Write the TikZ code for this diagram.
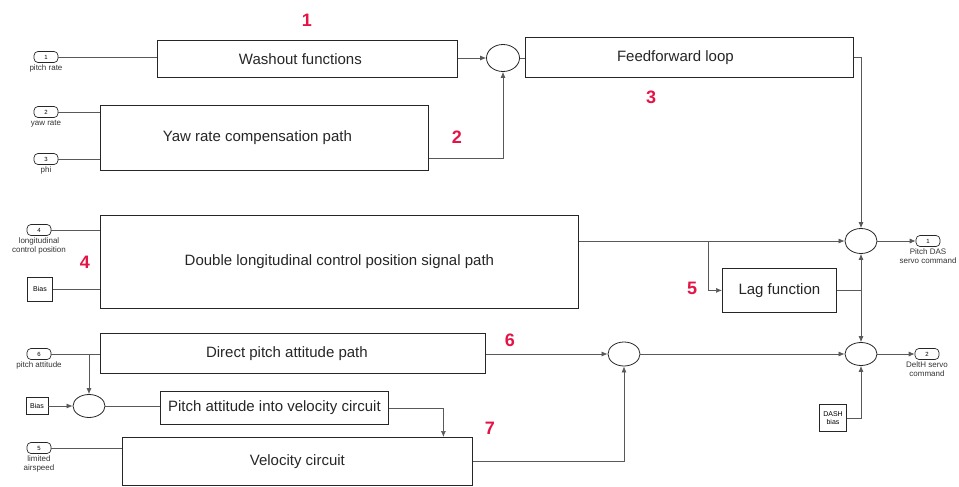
\documentclass[tikz,border=0pt]{standalone}
\usepackage{fontspec}
\setmainfont{Liberation Sans}
\usetikzlibrary{shapes.geometric,arrows.meta,positioning}
\definecolor{numred}{RGB}{228,20,70}
\tikzset{
  blk/.style={draw=black!85, line width=0.8pt, rectangle, inner sep=0pt, anchor=north west,
              font=\fontsize{15}{17}\selectfont, text=black!85},
  sumc/.style={draw=black!85, line width=0.8pt, ellipse, inner sep=0pt},
  port/.style={draw=black!85, line width=0.7pt, rounded corners=4pt, minimum width=24pt,
               minimum height=11pt, inner sep=0pt, font=\fontsize{6}{6}\selectfont},
  plab/.style={font=\fontsize{8}{9}\selectfont, align=center, text=black!80, inner sep=1pt},
  cst/.style={draw=black!85, line width=0.7pt, rectangle, inner sep=0pt, minimum width=25pt,
              minimum height=24pt, font=\fontsize{7}{8}\selectfont, align=center},
  wire/.style={draw=black!65, line width=0.7pt},
  arr/.style={wire, -{Latex[length=6pt,width=5pt]}},
  num/.style={text=numred, font=\fontsize{18}{18}\selectfont\bfseries},
}
\begin{document}
\begin{tikzpicture}[x=1pt,y=-1pt]
\useasboundingbox (0,0) rectangle (959,487);
% ports
\node[port] (p1) at (46,57) {1};
\node[plab, below=1pt of p1] {pitch rate};
\node[port] (p2) at (46,112) {2};
\node[plab, below=1pt of p2] {yaw rate};
\node[port] (p3) at (46,159) {3};
\node[plab, below=1pt of p3] {phi};
\node[port] (p4) at (39,230) {4};
\node[plab, below=1pt of p4] {longitudinal\\control position};
\node[cst] (b1) at (40,289) {Bias};
\node[port] (p6) at (39,354) {6};
\node[plab, below=1pt of p6] {pitch attitude};
\node[cst, minimum width=22pt, minimum height=17pt] (b2) at (37,406) {Bias};
\node[port] (p5) at (39,448) {5};
\node[plab, below=1pt of p5] {limited\\airspeed};
% blocks
\node[blk, minimum width=300pt, minimum height=37pt] (wash) at (157,40) {Washout functions\hspace*{14pt}};
\node[blk, minimum width=328pt, minimum height=40pt] (ff) at (525,37) {Feedforward loop\hspace*{28pt}};
\node[blk, minimum width=328pt, minimum height=65pt] (yaw) at (100,105) {Yaw rate compensation path\hspace*{14pt}};
\node[blk, minimum width=478pt, minimum height=93pt] (dbl) at (100,215) {Double longitudinal control position signal path};
\node[blk, minimum width=114pt, minimum height=44pt] (lag) at (722,268) {Lag function};
\node[blk, minimum width=385pt, minimum height=40pt] (dp) at (100,333) {Direct pitch attitude path\hspace*{12pt}};
\node[blk, minimum width=228pt, minimum height=33pt] (pv) at (160,391) {Pitch attitude into velocity circuit};
\node[blk, minimum width=350pt, minimum height=48pt] (vc) at (122,437) {Velocity circuit};
\node[cst, minimum width=27pt, minimum height=27pt] (dash) at (833,418) {DASH\\bias};
% sums
\node[sumc, minimum width=33pt, minimum height=27pt] (s1) at (503,58) {};
\node[sumc, minimum width=32pt, minimum height=25pt] (s2) at (861,241) {};
\node[sumc, minimum width=32pt, minimum height=23pt] (s3) at (861,354) {};
\node[sumc, minimum width=32pt, minimum height=23pt] (s4) at (89,406) {};
\node[sumc, minimum width=32pt, minimum height=24pt] (s5) at (624,354) {};
% outputs
\node[port] (o1) at (928,241) {1};
\node[plab, below=1pt of o1] {Pitch DAS\\servo command};
\node[port] (o2) at (927,354) {2};
\node[plab, below=1pt of o2] {DeltH servo\\command};
% wires
\draw[wire] (p1.east) -- (p1 -| wash.west);
\draw[arr] (wash.east |- s1) -- (s1.west);
\draw[wire] (s1.east) -- (s1 -| ff.west);
\draw[wire] (p2.east) -- (p2 -| yaw.west);
\draw[wire] (p3.east) -- (p3 -| yaw.west);
\draw[arr] ([yshift=-20pt]yaw.east) -| (s1.south);
\draw[arr] (ff.east) -| (s2.north);
\draw[wire] (p4.east) -- (p4 -| dbl.west);
\draw[wire] (b1.east) -- (b1 -| dbl.west);
\draw[arr] (dbl.east |- s2) -- (s2.west);
\coordinate (br) at (708,241);
\draw[arr] (br) |- (lag.west);
\coordinate (jl) at (s2 |- lag.east);
\draw[wire] (lag.east) -- (jl);
\draw[arr] (jl) -- (s2.south);
\draw[arr] (jl) -- (s3.north);
\draw[arr] (s2.east) -- (o1.west);
\draw[wire] (p6.east) -- (p6 -| dp.west);
\coordinate (b6) at (s4 |- p6);
\draw[arr] (b6) -- (s4.north);
\draw[arr] (b2.east) -- (s4.west);
\draw[wire] (s4.east) -- (s4 -| pv.west);
\draw[arr] (pv.east) -| ([xshift=146pt]vc.north);
\draw[wire] (p5.east) -- (p5 -| vc.west);
\draw[arr] (vc.east) -| (s5.south);
\draw[arr] (dp.east |- s5) -- (s5.west);
\draw[arr] (s5.east) -- (s3.west);
\draw[arr] (dash.east) -| (s3.south);
\draw[arr] (s3.east) -- (o2.west);
% numbers
\node[num] (n1) at (307,20) {1};
\node[num] (n2) at (457,137) {2};
\node[num] (n3) at (651,97) {3};
\node[num] (n4) at (85,262) {4};
\node[num] (n5) at (692,288) {5};
\node[num] (n6) at (510,340) {6};
\node[num] (n7) at (490,428) {7};
\end{tikzpicture}
\end{document}
